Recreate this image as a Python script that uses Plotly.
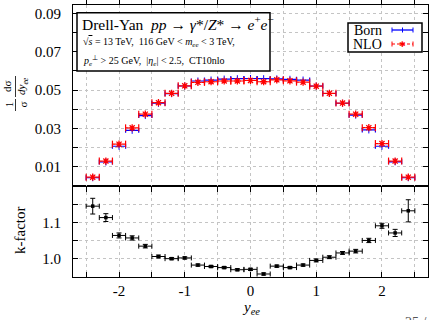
import plotly.graph_objects as go

# ---- data ----
y_centers = [-2.4, -2.2, -2.0, -1.8, -1.6, -1.4, -1.2, -1.0, -0.8, -0.6, -0.4, -0.2,
             0.0, 0.2, 0.4, 0.6, 0.8, 1.0, 1.2, 1.4, 1.6, 1.8, 2.0, 2.2, 2.4]
bin_halfwidth = [0.1] * len(y_centers)
born = [0.0043, 0.0125, 0.0207, 0.0290, 0.0367, 0.0431, 0.0481, 0.0521, 0.0547, 0.0552, 0.0557, 0.0559,
        0.0560, 0.0559, 0.0558, 0.0556, 0.0552, 0.0521, 0.0482, 0.0431, 0.0369, 0.0292, 0.0207, 0.0126, 0.0043]
nlo = [0.0046, 0.0130, 0.0218, 0.0303, 0.0374, 0.0434, 0.0483, 0.0522, 0.0540, 0.0543, 0.0547, 0.0547,
       0.0550, 0.0543, 0.0553, 0.0548, 0.0541, 0.0520, 0.0483, 0.0432, 0.0374, 0.0304, 0.0221, 0.0130, 0.0046]
kfactor = [1.146, 1.114, 1.064, 1.057, 1.034, 1.005, 0.999, 1.001, 0.981, 0.977, 0.974, 0.968,
           0.969, 0.956, 0.978, 0.974, 0.981, 0.994, 1.003, 1.015, 1.020, 1.050, 1.091, 1.071, 1.133]
kfactor_err = [0.022, 0.011, 0.007, 0.006, 0.005, 0.004, 0.003, 0.003, 0.003, 0.003, 0.003, 0.003,
               0.003, 0.003, 0.003, 0.003, 0.003, 0.004, 0.004, 0.004, 0.005, 0.006, 0.007, 0.010, 0.031]

x_tickvals = [-2.5, -2.0, -1.5, -1.0, -0.5, 0.0, 0.5, 1.0, 1.5, 2.0, 2.5]
x_ticktext = ["", "-2", "", "-1", "", "0", "", "1", "", "2", ""]
top_tickvals = [0.01, 0.02, 0.03, 0.04, 0.05, 0.06, 0.07, 0.08, 0.09]
top_ticktext = ["0.01", "", "0.03", "", "0.05", "", "0.07", "", "0.09"]
bot_tickvals = [1.0, 1.05, 1.1, 1.15]
bot_ticktext = ["1.0", "", "1.1", ""]

FONT = "Liberation Serif, Times New Roman, Times, serif"
BLUE = "#0000ff"
RED = "#ff0000"

fig = go.Figure()

# Born
fig.add_trace(go.Scatter(
    x=y_centers, y=born, mode="markers", name="Born",
    marker=dict(symbol="line-ns-open", size=5, color=BLUE, line=dict(color=BLUE, width=1)),
    error_x=dict(type="data", array=bin_halfwidth, color=BLUE, thickness=1.2, width=2.5),
    xaxis="x", yaxis="y2", showlegend=False))

# NLO dashed bin segments
seg_x, seg_y, cap_x, cap_y = [], [], [], []
for c, h, v in zip(y_centers, bin_halfwidth, nlo):
    seg_x += [c - h, c + h, None]
    seg_y += [v, v, None]
    cap_x += [c - h, c + h]
    cap_y += [v, v]
fig.add_trace(go.Scatter(x=seg_x, y=seg_y, mode="lines", line=dict(color=RED, width=1.2, dash="3px,2px"),
                         xaxis="x", yaxis="y2", showlegend=False, hoverinfo="skip"))
fig.add_trace(go.Scatter(x=cap_x, y=cap_y, mode="markers",
                         marker=dict(symbol="line-ns-open", size=5, color=RED, line=dict(color=RED, width=1.2)),
                         xaxis="x", yaxis="y2", showlegend=False, hoverinfo="skip"))
fig.add_trace(go.Scatter(x=y_centers, y=nlo, mode="markers", name="NLO",
                         marker=dict(symbol="asterisk-open", size=6, color=RED, line=dict(color=RED, width=1.3)),
                         xaxis="x", yaxis="y2", showlegend=False))

# k-factor
fig.add_trace(go.Scatter(
    x=y_centers, y=kfactor, mode="markers",
    marker=dict(symbol="square", size=3.5, color="black"),
    error_x=dict(type="data", array=bin_halfwidth, color="black", thickness=1, width=2.5),
    error_y=dict(type="data", array=kfactor_err, color="black", thickness=1, width=2.5),
    xaxis="x", yaxis="y", showlegend=False))

grid = dict(showgrid=True, gridcolor="#c4c4c4", griddash="dot", gridwidth=1)
axline = dict(showline=True, linecolor="black", linewidth=1.2, mirror="allticks",
              ticks="inside", ticklen=5, tickcolor="black", tickwidth=1, zeroline=False)
tickfont = dict(family=FONT, size=15, color="black")

fig.update_layout(
    width=430, height=320,
    margin=dict(l=73, r=2, t=5, b=43),
    paper_bgcolor="white", plot_bgcolor="white",
    font=dict(family=FONT, color="black"),
    xaxis=dict(domain=[0, 1], range=[-2.7, 2.7], tickvals=x_tickvals, ticktext=x_ticktext,
               tickfont=tickfont, anchor="y", ticklabelstandoff=0, **grid, **axline),
    xaxis2=dict(domain=[0, 1], range=[-2.7, 2.7], tickvals=x_tickvals, ticktext=[""] * len(x_tickvals),
                anchor="y2", matches="x", **grid, **axline),
    yaxis=dict(domain=[0, 0.3346], range=[0.9476, 1.2025], tickvals=bot_tickvals, ticktext=bot_ticktext,
               tickfont=tickfont, anchor="x", ticklabelstandoff=8, **grid, **axline),
    yaxis2=dict(domain=[0.3346, 1], range=[0.0, 0.0943], tickvals=top_tickvals, ticktext=top_ticktext,
                tickfont=tickfont, anchor="x2", ticklabelstandoff=8, **grid, **axline),
)

def px(xp):
    return (xp - 73) / 355

def py(yp):
    return (277 - yp) / 272

shapes = []
# info box
shapes.append(dict(type="rect", xref="paper", yref="paper", x0=px(77), x1=px(270), y0=py(71), y1=py(12.7),
                   line=dict(color="black", width=1.5), fillcolor="white", layer="above"))
# legend box
shapes.append(dict(type="rect", xref="paper", yref="paper", x0=px(348), x1=px(422), y0=py(52), y1=py(23),
                   line=dict(color="black", width=1.5), fillcolor="white", layer="above"))
# legend samples
ly1, ly2 = py(30), py(44)
shapes.append(dict(type="line", xref="paper", yref="paper", x0=px(392), x1=px(413), y0=ly1, y1=ly1,
                   line=dict(color=BLUE, width=1.3), layer="above"))
for xx in (392, 413, 402.5):
    shapes.append(dict(type="line", xref="paper", yref="paper", x0=px(xx), x1=px(xx), y0=py(27.5), y1=py(32.5),
                       line=dict(color=BLUE, width=1), layer="above"))
shapes.append(dict(type="line", xref="paper", yref="paper", x0=px(392), x1=px(413), y0=ly2, y1=ly2,
                   line=dict(color=RED, width=1.2, dash="3px,2px"), layer="above"))
for xx in (392, 413):
    shapes.append(dict(type="line", xref="paper", yref="paper", x0=px(xx), x1=px(xx), y0=py(41.5), y1=py(46.5),
                       line=dict(color=RED, width=1), layer="above"))
# fraction bars of y title
shapes.append(dict(type="line", xref="paper", yref="paper", x0=px(15.5), x1=px(15.5), y0=py(99), y1=py(111),
                   line=dict(color="black", width=0.8), layer="above"))
shapes.append(dict(type="line", xref="paper", yref="paper", x0=px(15.5), x1=px(15.5), y0=py(76), y1=py(97),
                   line=dict(color="black", width=0.8), layer="above"))
fig.update_layout(shapes=shapes)

ann = []
def A(text, x, y, size, xanchor="left", yanchor="middle", angle=0, color="black"):
    ann.append(dict(text=text, x=x, y=y, xref="paper", yref="paper", showarrow=False,
                    xanchor=xanchor, yanchor=yanchor, textangle=angle,
                    font=dict(family=FONT, size=size, color=color)))

A("Drell-Yan  <i>pp</i> → <i>γ</i>*/<i>Z</i>* → <i>e</i><sup>+</sup><i>e</i><sup>−</sup>", px(80), py(23), 15.5)
A("√<span style='text-decoration:overline'><i>s</i></span> = 13 TeV,  116 GeV &lt; <i>m<sub>ee</sub></i> &lt; 3 TeV,",
  px(81), py(43), 10)
A("<i>p<sub>e</sub></i><sup>⊥</sup> &gt; 25 GeV,  |<i>η<sub>e</sub></i>| &lt; 2.5,  CT10nlo", px(81), py(61), 10)
A("Born", px(384), py(30), 14, xanchor="right")
A("NLO", px(384), py(44), 14, xanchor="right")
A("✱", px(402.5), py(44), 8, xanchor="center", color=RED)
A("dσ<br><i>dy<sub>ee</sub></i>", px(15.5), py(86.5), 11, xanchor="center", angle=-90)
A("1<br>σ", px(15.5), py(105), 11, xanchor="center", angle=-90)
A("k-factor", px(20), py(231), 15, xanchor="center", angle=-90)
A("<i>y<sub>ee</sub></i>", px(251), py(308), 15, xanchor="center")
A("25 / 43", px(403), py(313), 14, xanchor="left", yanchor="top", color="#555555")
fig.update_layout(annotations=ann)

fig.write_html("out.html", config={"displayModeBar": False},
               post_script="document.body.style.margin='0';document.body.style.overflow='hidden';")
